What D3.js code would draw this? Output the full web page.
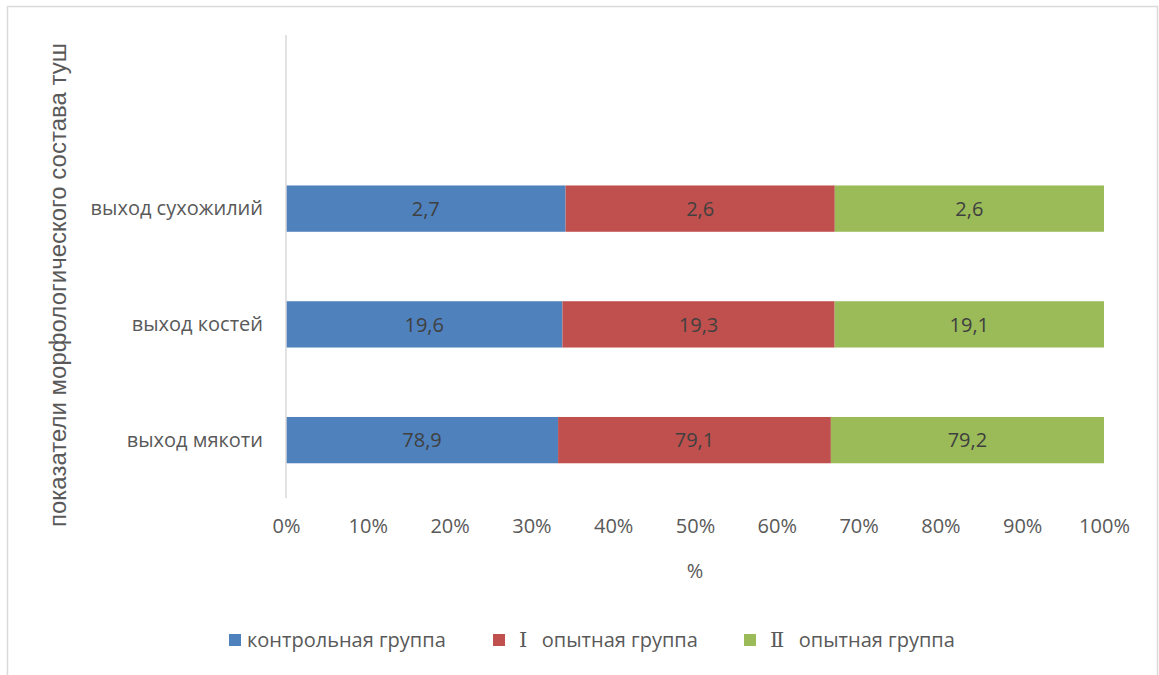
<!DOCTYPE html>
<html><head><meta charset="utf-8">
<script src="https://cdn.jsdelivr.net/npm/d3@7/dist/d3.min.js"></script>
<style>body{margin:0;background:#fff}svg{display:block}</style>
</head><body>
<script>
const categories = ["выход мякоти", "выход костей", "выход сухожилий"];
const seriesNumerals = ["", "Ⅰ", "Ⅱ"];
const seriesNames = ["контрольная группа", "опытная группа", "опытная группа"];
const control = [78.9, 19.6, 2.7];
const group1 = [79.1, 19.3, 2.6];
const group2 = [79.2, 19.1, 2.6];
const xTicks = [0, 0.1, 0.2, 0.3, 0.4, 0.5, 0.6, 0.7, 0.8, 0.9, 1];
const colors = ["#4F81BD", "#C0504D", "#9BBB59"];

(function () {
const W = 1159, H = 675;
const svg = d3.select("body").append("svg").attr("width", W).attr("height", H);
const font = "'Open Sans', sans-serif";

svg.append("rect").attr("x", 7.5).attr("y", 6.5).attr("width", 1150).attr("height", 680)
  .attr("fill", "#fff").attr("stroke", "#d9d9d9").attr("stroke-width", 1.5);

const pLeft = 286, pRight = 1104, pTop = 35, pBottom = 498;
const x = d3.scaleLinear().domain([0, 1]).range([pLeft, pRight]);
const slots = [...categories, ""];
const y = d3.scaleBand().domain(slots).range([pBottom, pTop]).paddingInner(0.6).paddingOuter(0.3);

const rows = categories.map((c, i) => {
  const vals = [control[i], group1[i], group2[i]];
  const tot = d3.sum(vals);
  const o = {cat: c};
  vals.forEach((v, k) => { o["s" + k] = v / tot; o["v" + k] = v; });
  return o;
});
const stacked = d3.stack().keys(["s0", "s1", "s2"])(rows);

stacked.forEach((layer, k) => {
  const g = svg.append("g");
  g.selectAll("rect").data(layer).join("rect")
    .attr("x", d => x(d[0])).attr("width", d => x(d[1]) - x(d[0]))
    .attr("y", d => y(d.data.cat)).attr("height", y.bandwidth())
    .attr("fill", colors[k]);
  g.selectAll("text").data(layer).join("text")
    .attr("x", d => (x(d[0]) + x(d[1])) / 2)
    .attr("y", d => y(d.data.cat) + y.bandwidth() / 2)
    .attr("dy", "0.36em").attr("text-anchor", "middle")
    .attr("font-family", font).attr("font-size", 20).attr("fill", "#404040")
    .text(d => String(d.data["v" + k]).replace(".", ","));
});

svg.append("line").attr("x1", pLeft).attr("x2", pLeft).attr("y1", pTop).attr("y2", pBottom)
  .attr("stroke", "#d9d9d9").attr("stroke-width", 1.5);

const xAxis = d3.axisBottom(x).tickValues(xTicks).tickFormat(d3.format(".0%")).tickSize(0).tickPadding(0);
const xg = svg.append("g").attr("transform", `translate(0,${pBottom + 21})`).call(xAxis);
xg.select(".domain").remove();
xg.selectAll("text").attr("font-family", font).attr("font-size", 20).attr("fill", "#595959");

const yAxis = d3.axisLeft(y).tickValues(categories).tickSize(0).tickPadding(0);
const yg = svg.append("g").attr("transform", `translate(${pLeft - 23},0)`).call(yAxis);
yg.select(".domain").remove();
yg.selectAll("text").attr("font-family", font).attr("font-size", 20).attr("fill", "#595959");

svg.append("text").attr("x", (pLeft + pRight) / 2).attr("y", 571).attr("dy", "0.36em").attr("text-anchor", "middle")
  .attr("font-family", font).attr("font-size", 20).attr("fill", "#595959").text("%");
svg.append("text").attr("transform", "translate(66,285) rotate(-90)").attr("text-anchor", "middle")
  .attr("font-family", "'Liberation Sans', Arial, sans-serif").attr("font-size", 24).attr("fill", "#595959")
  .text("показатели морфологического состава туш");

const legX = [229, 493, 744];
const lg = svg.append("g");
seriesNames.forEach((n, k) => {
  lg.append("rect").attr("x", legX[k]).attr("y", 634).attr("width", 12).attr("height", 12).attr("fill", colors[k]);
  const t = lg.append("text").attr("x", legX[k] + 18).attr("y", 640).attr("dy", "0.36em")
    .attr("font-family", font).attr("font-size", 20).attr("fill", "#595959");
  if (seriesNumerals[k]) {
    t.append("tspan").attr("font-family", "'Liberation Serif', 'DejaVu Serif', serif").attr("font-size", 21)
      .attr("dx", 8).text(seriesNumerals[k] + "\u2002");
    t.append("tspan").attr("dx", 4).text(n);
  } else {
    t.text(n);
  }
});
})();
</script>
</body></html>
